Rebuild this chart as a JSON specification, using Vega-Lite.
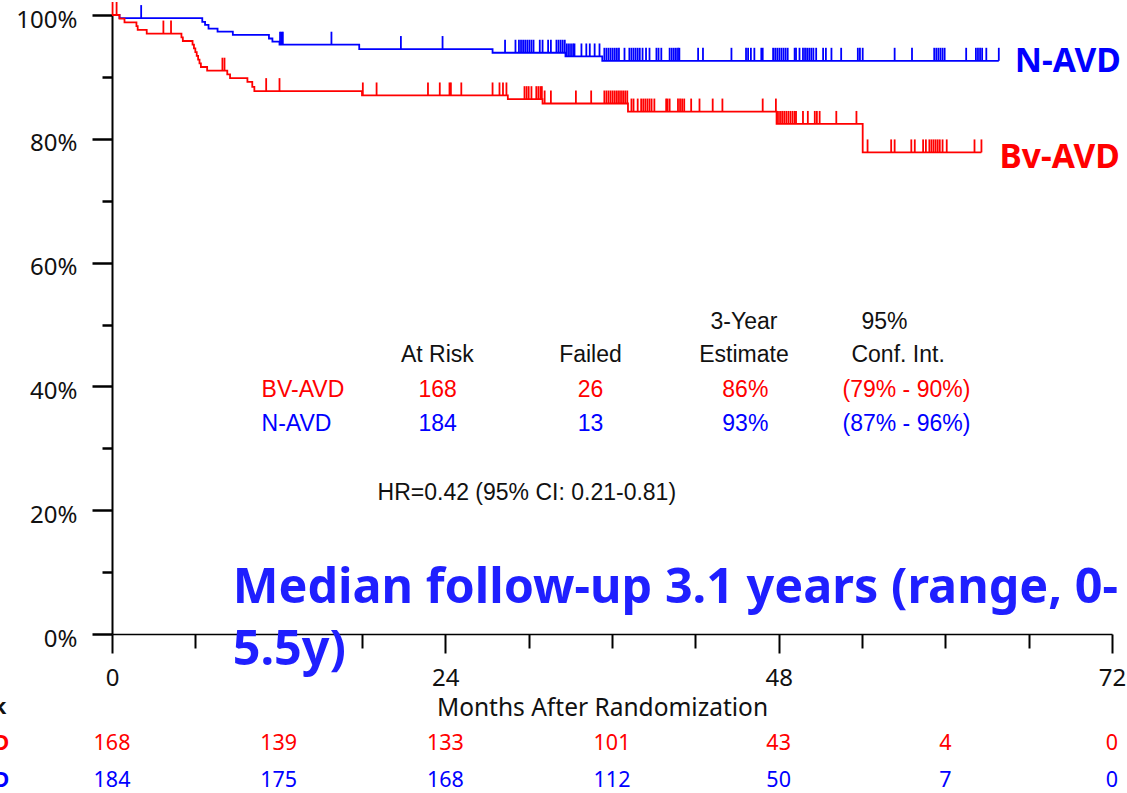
{
  "$schema": "https://vega.github.io/schema/vega-lite/v6.json",
  "width": 1000,
  "height": 619,
  "autosize": {"type": "none"},
  "padding": {"left": 112, "top": 15, "right": 15, "bottom": 159},
  "background": "white",
  "config": {"view": {"stroke": null}, "font": "Noto Sans"},
  "datasets": {
    "curve": [
      {"g":"N-AVD","t":0,"s":100},{"g":"N-AVD","t":0.54,"s":99.5},{"g":"N-AVD","t":6.5,"s":98.9},{"g":"N-AVD","t":6.7,"s":98.4},{"g":"N-AVD","t":6.95,"s":97.8},{"g":"N-AVD","t":7.6,"s":97.3},{"g":"N-AVD","t":8.7,"s":96.8},{"g":"N-AVD","t":11.3,"s":96.2},{"g":"N-AVD","t":11.55,"s":95.7},{"g":"N-AVD","t":12.06,"s":95.2},{"g":"N-AVD","t":17.8,"s":94.5},{"g":"N-AVD","t":27.4,"s":93.9},{"g":"N-AVD","t":32.65,"s":93.3},{"g":"N-AVD","t":35.3,"s":92.6},{"g":"N-AVD","t":63.85,"s":92.6},
      {"g":"BV-AVD","t":0,"s":100},{"g":"BV-AVD","t":0.54,"s":99.4},{"g":"BV-AVD","t":0.9,"s":98.8},{"g":"BV-AVD","t":1.76,"s":98.2},{"g":"BV-AVD","t":1.85,"s":97.6},{"g":"BV-AVD","t":2.5,"s":97.0},{"g":"BV-AVD","t":5.0,"s":96.4},{"g":"BV-AVD","t":5.1,"s":95.8},{"g":"BV-AVD","t":5.8,"s":95.2},{"g":"BV-AVD","t":5.9,"s":94.6},{"g":"BV-AVD","t":6.0,"s":94.0},{"g":"BV-AVD","t":6.1,"s":93.4},{"g":"BV-AVD","t":6.2,"s":92.8},{"g":"BV-AVD","t":6.3,"s":92.2},{"g":"BV-AVD","t":6.4,"s":91.6},{"g":"BV-AVD","t":6.85,"s":91.0},{"g":"BV-AVD","t":8.3,"s":90.4},{"g":"BV-AVD","t":8.5,"s":89.8},{"g":"BV-AVD","t":9.75,"s":89.2},{"g":"BV-AVD","t":10.1,"s":88.4},{"g":"BV-AVD","t":10.25,"s":87.7},{"g":"BV-AVD","t":18.0,"s":87.0},{"g":"BV-AVD","t":28.5,"s":86.4},{"g":"BV-AVD","t":31.0,"s":85.7},{"g":"BV-AVD","t":37.15,"s":84.4},{"g":"BV-AVD","t":47.85,"s":82.4},{"g":"BV-AVD","t":54.05,"s":77.8},{"g":"BV-AVD","t":62.6,"s":77.8}
    ],
    "cens": [
      {"g":"N-AVD","t":2.1,"s":99.5},
      {"g":"N-AVD","t":12.1,"s":95.2},{"g":"N-AVD","t":12.2,"s":95.2},{"g":"N-AVD","t":12.3,"s":95.2},{"g":"N-AVD","t":15.8,"s":95.2},
      {"g":"N-AVD","t":20.8,"s":94.5},{"g":"N-AVD","t":23.8,"s":94.5},
      {"g":"N-AVD","t":28.3,"s":93.9},{"g":"N-AVD","t":29.05,"s":93.9},{"g":"N-AVD","t":29.3,"s":93.9},{"g":"N-AVD","t":29.45,"s":93.9},{"g":"N-AVD","t":29.6,"s":93.9},{"g":"N-AVD","t":29.75,"s":93.9},{"g":"N-AVD","t":29.9,"s":93.9},{"g":"N-AVD","t":30.05,"s":93.9},{"g":"N-AVD","t":30.2,"s":93.9},{"g":"N-AVD","t":30.35,"s":93.9},{"g":"N-AVD","t":30.8,"s":93.9},{"g":"N-AVD","t":31.0,"s":93.9},{"g":"N-AVD","t":31.4,"s":93.9},{"g":"N-AVD","t":31.6,"s":93.9},{"g":"N-AVD","t":32.0,"s":93.9},{"g":"N-AVD","t":32.15,"s":93.9},{"g":"N-AVD","t":32.3,"s":93.9},{"g":"N-AVD","t":32.45,"s":93.9},{"g":"N-AVD","t":32.6,"s":93.9},
      {"g":"N-AVD","t":32.75,"s":93.3},{"g":"N-AVD","t":32.9,"s":93.3},{"g":"N-AVD","t":33.05,"s":93.3},{"g":"N-AVD","t":33.2,"s":93.3},{"g":"N-AVD","t":33.3,"s":93.3},{"g":"N-AVD","t":33.8,"s":93.3},{"g":"N-AVD","t":34.15,"s":93.3},{"g":"N-AVD","t":34.4,"s":93.3},{"g":"N-AVD","t":34.75,"s":93.3},{"g":"N-AVD","t":35.1,"s":93.3},
      {"g":"N-AVD","t":35.45,"s":92.6},{"g":"N-AVD","t":35.6,"s":92.6},{"g":"N-AVD","t":35.75,"s":92.6},{"g":"N-AVD","t":35.9,"s":92.6},{"g":"N-AVD","t":36.05,"s":92.6},{"g":"N-AVD","t":36.2,"s":92.6},{"g":"N-AVD","t":36.35,"s":92.6},{"g":"N-AVD","t":36.5,"s":92.6},{"g":"N-AVD","t":36.9,"s":92.6},{"g":"N-AVD","t":37.25,"s":92.6},{"g":"N-AVD","t":37.4,"s":92.6},{"g":"N-AVD","t":37.55,"s":92.6},{"g":"N-AVD","t":37.7,"s":92.6},{"g":"N-AVD","t":37.85,"s":92.6},{"g":"N-AVD","t":38.0,"s":92.6},{"g":"N-AVD","t":38.2,"s":92.6},{"g":"N-AVD","t":38.45,"s":92.6},{"g":"N-AVD","t":38.7,"s":92.6},{"g":"N-AVD","t":39.2,"s":92.6},{"g":"N-AVD","t":39.35,"s":92.6},{"g":"N-AVD","t":39.55,"s":92.6},{"g":"N-AVD","t":40.15,"s":92.6},{"g":"N-AVD","t":40.3,"s":92.6},{"g":"N-AVD","t":40.45,"s":92.6},{"g":"N-AVD","t":40.6,"s":92.6},{"g":"N-AVD","t":40.75,"s":92.6},{"g":"N-AVD","t":40.85,"s":92.6},{"g":"N-AVD","t":42.2,"s":92.6},{"g":"N-AVD","t":42.55,"s":92.6},{"g":"N-AVD","t":44.6,"s":92.6},{"g":"N-AVD","t":45.65,"s":92.6},{"g":"N-AVD","t":45.8,"s":92.6},{"g":"N-AVD","t":46.0,"s":92.6},{"g":"N-AVD","t":46.25,"s":92.6},{"g":"N-AVD","t":46.75,"s":92.6},{"g":"N-AVD","t":46.85,"s":92.6},{"g":"N-AVD","t":47.6,"s":92.6},{"g":"N-AVD","t":47.75,"s":92.6},{"g":"N-AVD","t":47.9,"s":92.6},{"g":"N-AVD","t":48.05,"s":92.6},{"g":"N-AVD","t":48.2,"s":92.6},{"g":"N-AVD","t":48.35,"s":92.6},{"g":"N-AVD","t":48.5,"s":92.6},{"g":"N-AVD","t":48.65,"s":92.6},{"g":"N-AVD","t":49.15,"s":92.6},{"g":"N-AVD","t":49.25,"s":92.6},{"g":"N-AVD","t":49.5,"s":92.6},{"g":"N-AVD","t":49.75,"s":92.6},{"g":"N-AVD","t":49.9,"s":92.6},{"g":"N-AVD","t":50.05,"s":92.6},{"g":"N-AVD","t":50.2,"s":92.6},{"g":"N-AVD","t":50.35,"s":92.6},{"g":"N-AVD","t":50.5,"s":92.6},{"g":"N-AVD","t":50.7,"s":92.6},{"g":"N-AVD","t":51.2,"s":92.6},{"g":"N-AVD","t":51.4,"s":92.6},{"g":"N-AVD","t":51.8,"s":92.6},{"g":"N-AVD","t":52.5,"s":92.6},{"g":"N-AVD","t":53.7,"s":92.6},{"g":"N-AVD","t":53.85,"s":92.6},{"g":"N-AVD","t":54.05,"s":92.6},{"g":"N-AVD","t":56.35,"s":92.6},{"g":"N-AVD","t":57.6,"s":92.6},{"g":"N-AVD","t":59.2,"s":92.6},{"g":"N-AVD","t":59.35,"s":92.6},{"g":"N-AVD","t":59.5,"s":92.6},{"g":"N-AVD","t":59.65,"s":92.6},{"g":"N-AVD","t":59.8,"s":92.6},{"g":"N-AVD","t":59.95,"s":92.6},{"g":"N-AVD","t":61.5,"s":92.6},{"g":"N-AVD","t":62.2,"s":92.6},{"g":"N-AVD","t":62.35,"s":92.6},{"g":"N-AVD","t":62.5,"s":92.6},{"g":"N-AVD","t":62.65,"s":92.6},{"g":"N-AVD","t":62.95,"s":92.6},{"g":"N-AVD","t":63.85,"s":92.6},
      {"g":"BV-AVD","t":0.04,"s":100},{"g":"BV-AVD","t":0.33,"s":100},
      {"g":"BV-AVD","t":3.7,"s":97.0},{"g":"BV-AVD","t":4.25,"s":97.0},
      {"g":"BV-AVD","t":7.95,"s":91.0},{"g":"BV-AVD","t":8.1,"s":91.0},
      {"g":"BV-AVD","t":11.1,"s":87.7},{"g":"BV-AVD","t":12.06,"s":87.7},
      {"g":"BV-AVD","t":18.06,"s":87.0},{"g":"BV-AVD","t":19.05,"s":87.0},{"g":"BV-AVD","t":22.75,"s":87.0},{"g":"BV-AVD","t":23.6,"s":87.0},{"g":"BV-AVD","t":24.3,"s":87.0},{"g":"BV-AVD","t":24.4,"s":87.0},{"g":"BV-AVD","t":25.15,"s":87.0},{"g":"BV-AVD","t":27.4,"s":87.0},{"g":"BV-AVD","t":27.9,"s":87.0},{"g":"BV-AVD","t":28.15,"s":87.0},{"g":"BV-AVD","t":28.4,"s":87.0},
      {"g":"BV-AVD","t":29.7,"s":86.4},{"g":"BV-AVD","t":29.85,"s":86.4},{"g":"BV-AVD","t":30.0,"s":86.4},{"g":"BV-AVD","t":30.2,"s":86.4},{"g":"BV-AVD","t":30.55,"s":86.4},{"g":"BV-AVD","t":30.7,"s":86.4},{"g":"BV-AVD","t":30.85,"s":86.4},{"g":"BV-AVD","t":30.95,"s":86.4},
      {"g":"BV-AVD","t":31.15,"s":85.7},{"g":"BV-AVD","t":31.6,"s":85.7},{"g":"BV-AVD","t":33.4,"s":85.7},{"g":"BV-AVD","t":34.5,"s":85.7},{"g":"BV-AVD","t":35.45,"s":85.7},{"g":"BV-AVD","t":35.6,"s":85.7},{"g":"BV-AVD","t":35.75,"s":85.7},{"g":"BV-AVD","t":35.9,"s":85.7},{"g":"BV-AVD","t":36.05,"s":85.7},{"g":"BV-AVD","t":36.2,"s":85.7},{"g":"BV-AVD","t":36.35,"s":85.7},{"g":"BV-AVD","t":36.5,"s":85.7},{"g":"BV-AVD","t":36.65,"s":85.7},{"g":"BV-AVD","t":36.8,"s":85.7},{"g":"BV-AVD","t":36.95,"s":85.7},{"g":"BV-AVD","t":37.1,"s":85.7},
      {"g":"BV-AVD","t":37.4,"s":84.4},{"g":"BV-AVD","t":37.55,"s":84.4},{"g":"BV-AVD","t":37.85,"s":84.4},{"g":"BV-AVD","t":38.1,"s":84.4},{"g":"BV-AVD","t":38.25,"s":84.4},{"g":"BV-AVD","t":38.4,"s":84.4},{"g":"BV-AVD","t":38.55,"s":84.4},{"g":"BV-AVD","t":38.7,"s":84.4},{"g":"BV-AVD","t":38.85,"s":84.4},{"g":"BV-AVD","t":39.05,"s":84.4},{"g":"BV-AVD","t":39.9,"s":84.4},{"g":"BV-AVD","t":40.0,"s":84.4},{"g":"BV-AVD","t":40.15,"s":84.4},{"g":"BV-AVD","t":40.75,"s":84.4},{"g":"BV-AVD","t":40.9,"s":84.4},{"g":"BV-AVD","t":41.05,"s":84.4},{"g":"BV-AVD","t":41.2,"s":84.4},{"g":"BV-AVD","t":41.7,"s":84.4},{"g":"BV-AVD","t":42.3,"s":84.4},{"g":"BV-AVD","t":43.25,"s":84.4},{"g":"BV-AVD","t":43.95,"s":84.4},{"g":"BV-AVD","t":46.85,"s":84.4},{"g":"BV-AVD","t":47.8,"s":84.4},
      {"g":"BV-AVD","t":47.95,"s":82.4},{"g":"BV-AVD","t":48.1,"s":82.4},{"g":"BV-AVD","t":48.25,"s":82.4},{"g":"BV-AVD","t":48.4,"s":82.4},{"g":"BV-AVD","t":48.55,"s":82.4},{"g":"BV-AVD","t":48.7,"s":82.4},{"g":"BV-AVD","t":48.85,"s":82.4},{"g":"BV-AVD","t":49.0,"s":82.4},{"g":"BV-AVD","t":49.15,"s":82.4},{"g":"BV-AVD","t":49.25,"s":82.4},{"g":"BV-AVD","t":49.75,"s":82.4},{"g":"BV-AVD","t":50.1,"s":82.4},{"g":"BV-AVD","t":50.6,"s":82.4},{"g":"BV-AVD","t":50.75,"s":82.4},{"g":"BV-AVD","t":50.95,"s":82.4},{"g":"BV-AVD","t":52.15,"s":82.4},{"g":"BV-AVD","t":53.6,"s":82.4},
      {"g":"BV-AVD","t":54.4,"s":77.8},{"g":"BV-AVD","t":56.1,"s":77.8},{"g":"BV-AVD","t":56.35,"s":77.8},{"g":"BV-AVD","t":57.55,"s":77.8},{"g":"BV-AVD","t":57.8,"s":77.8},{"g":"BV-AVD","t":58.4,"s":77.8},{"g":"BV-AVD","t":58.6,"s":77.8},{"g":"BV-AVD","t":58.85,"s":77.8},{"g":"BV-AVD","t":59.0,"s":77.8},{"g":"BV-AVD","t":59.15,"s":77.8},{"g":"BV-AVD","t":59.3,"s":77.8},{"g":"BV-AVD","t":59.45,"s":77.8},{"g":"BV-AVD","t":59.6,"s":77.8},{"g":"BV-AVD","t":59.8,"s":77.8},{"g":"BV-AVD","t":60.1,"s":77.8},{"g":"BV-AVD","t":62.1,"s":77.8},{"g":"BV-AVD","t":62.6,"s":77.8}
    ],
    "tblc": [
      {"t":45.5,"s":50.4,"g":"hdr","txt":"3-Year"},
      {"t":55.62,"s":50.4,"g":"hdr","txt":"95%"},
      {"t":23.43,"s":45.1,"g":"hdr","txt":"At Risk"},
      {"t":34.45,"s":45.1,"g":"hdr","txt":"Failed"},
      {"t":45.5,"s":45.1,"g":"hdr","txt":"Estimate"},
      {"t":56.6,"s":45.1,"g":"hdr","txt":"Conf. Int."},
      {"t":23.45,"s":39.4,"g":"BV-AVD","txt":"168"},
      {"t":34.45,"s":39.4,"g":"BV-AVD","txt":"26"},
      {"t":45.6,"s":39.4,"g":"BV-AVD","txt":"86%"},
      {"t":57.2,"s":39.4,"g":"BV-AVD","txt":"(79% - 90%)"},
      {"t":23.45,"s":33.9,"g":"N-AVD","txt":"184"},
      {"t":34.45,"s":33.9,"g":"N-AVD","txt":"13"},
      {"t":45.6,"s":33.9,"g":"N-AVD","txt":"93%"},
      {"t":57.2,"s":33.9,"g":"N-AVD","txt":"(87% - 96%)"}
    ],
    "tbll": [
      {"t":10.77,"s":39.4,"g":"BV-AVD","txt":"BV-AVD"},
      {"t":10.77,"s":33.9,"g":"N-AVD","txt":"N-AVD"},
      {"t":19.12,"s":22.8,"g":"hdr","txt":"HR=0.42 (95% CI: 0.21-0.81)"}
    ],
    "note": [
      {"t":8.69,"s":7.43,"txt":"Median follow-up 3.1 years (range, 0-"},
      {"t":8.69,"s":-2.58,"txt":"5.5y)"}
    ],
    "lbl": [
      {"t":65.0,"s":92.4,"g":"N-AVD","txt":"N-AVD"},
      {"t":63.9,"s":76.9,"g":"BV-AVD","txt":"Bv-AVD"}
    ],
    "risk": [
      {"t":0,"s":-17.8,"g":"BV-AVD","txt":"168"},{"t":12,"s":-17.8,"g":"BV-AVD","txt":"139"},{"t":24,"s":-17.8,"g":"BV-AVD","txt":"133"},{"t":36,"s":-17.8,"g":"BV-AVD","txt":"101"},{"t":48,"s":-17.8,"g":"BV-AVD","txt":"43"},{"t":60,"s":-17.8,"g":"BV-AVD","txt":"4"},{"t":72,"s":-17.8,"g":"BV-AVD","txt":"0"},
      {"t":0,"s":-23.8,"g":"N-AVD","txt":"184"},{"t":12,"s":-23.8,"g":"N-AVD","txt":"175"},{"t":24,"s":-23.8,"g":"N-AVD","txt":"168"},{"t":36,"s":-23.8,"g":"N-AVD","txt":"112"},{"t":48,"s":-23.8,"g":"N-AVD","txt":"50"},{"t":60,"s":-23.8,"g":"N-AVD","txt":"7"},{"t":72,"s":-23.8,"g":"N-AVD","txt":"0"}
    ],
    "riskl": [
      {"t":-7.4,"s":-17.8,"g":"BV-AVD","txt":"BV-AVD"},
      {"t":-7.4,"s":-23.8,"g":"N-AVD","txt":"N-AVD"},
      {"t":-7.6,"s":-12.0,"g":"hdr","txt":"At Risk"}
    ]
  },
  "layer": [
    {
      "data": {"name": "curve"},
      "mark": {"type": "line", "interpolate": "step-after", "strokeWidth": 1.8},
      "encoding": {
        "x": {
          "field": "t", "type": "quantitative",
          "scale": {"domain": [0, 72], "nice": false, "zero": false},
          "axis": {
            "values": [0, 6, 12, 18, 24, 30, 36, 42, 48, 54, 60, 66, 72],
            "labelExpr": "datum.value % 24 === 0 ? datum.label : ''",
            "tickSize": {"condition": {"test": "datum.value % 24 === 0", "value": 19}, "value": 14},
            "tickWidth": 2, "tickColor": "#000",
            "domainColor": "#000", "domainWidth": 1.5,
            "grid": false, "labelFlush": false, "labelOverlap": false,
            "labelFont": "Noto Sans", "labelFontSize": 24, "labelColor": "#111", "labelPadding": 13,
            "title": "Months After Randomization", "titleFont": "Noto Sans", "titleFontSize": 24.5,
            "titleFontWeight": "normal", "titleColor": "#111", "titlePadding": 6, "titleX": 490
          }
        },
        "y": {
          "field": "s", "type": "quantitative",
          "scale": {"domain": [0, 100], "nice": false},
          "axis": {
            "values": [0, 10, 20, 30, 40, 50, 60, 70, 80, 90, 100],
            "labelExpr": "datum.value % 20 === 0 ? datum.value + '%' : ''",
            "tickSize": {"condition": {"test": "datum.value % 20 === 0", "value": 20}, "value": 10},
            "tickWidth": 2.5, "tickColor": "#000",
            "domainColor": "#000", "domainWidth": 2,
            "grid": false, "labelOverlap": false,
            "labelFont": "Noto Sans", "labelFontSize": 24, "labelColor": "#111", "labelPadding": 15,
            "labelOffset": 5,
            "title": null
          }
        },
        "color": {"field": "g", "type": "nominal", "scale": {"domain": ["BV-AVD", "N-AVD", "hdr"], "range": ["#ff0000", "#0000ff", "#111111"]}, "legend": null}
      }
    },
    {
      "data": {"name": "cens"},
      "mark": {"type": "rule", "strokeWidth": 1.8, "y2Offset": -13},
      "encoding": {
        "x": {"field": "t", "type": "quantitative"},
        "y": {"field": "s", "type": "quantitative"},
        "y2": {"field": "s"},
        "color": {"field": "g", "type": "nominal", "legend": null}
      }
    },
    {
      "data": {"name": "tblc"},
      "mark": {"type": "text", "font": "Liberation Sans", "fontSize": 23, "align": "center", "baseline": "middle"},
      "encoding": {
        "x": {"field": "t", "type": "quantitative"},
        "y": {"field": "s", "type": "quantitative"},
        "text": {"field": "txt"},
        "color": {"field": "g", "type": "nominal", "legend": null}
      }
    },
    {
      "data": {"name": "tbll"},
      "mark": {"type": "text", "font": "Liberation Sans", "fontSize": 23, "align": "left", "baseline": "middle"},
      "encoding": {
        "x": {"field": "t", "type": "quantitative"},
        "y": {"field": "s", "type": "quantitative"},
        "text": {"field": "txt"},
        "color": {"field": "g", "type": "nominal", "legend": null}
      }
    },
    {
      "data": {"name": "note"},
      "mark": {"type": "text", "font": "Noto Sans", "fontSize": 48.5, "fontWeight": "bold", "align": "left", "baseline": "middle", "color": "#1f1fff"},
      "encoding": {
        "x": {"field": "t", "type": "quantitative"},
        "y": {"field": "s", "type": "quantitative"},
        "text": {"field": "txt"}
      }
    },
    {
      "data": {"name": "lbl"},
      "mark": {"type": "text", "font": "Noto Sans", "fontSize": 33.5, "fontWeight": "bold", "align": "left", "baseline": "middle"},
      "encoding": {
        "x": {"field": "t", "type": "quantitative"},
        "y": {"field": "s", "type": "quantitative"},
        "text": {"field": "txt"},
        "color": {"field": "g", "type": "nominal", "legend": null}
      }
    },
    {
      "data": {"name": "risk"},
      "mark": {"type": "text", "font": "Noto Sans", "fontSize": 21.5, "align": "center", "baseline": "middle"},
      "encoding": {
        "x": {"field": "t", "type": "quantitative"},
        "y": {"field": "s", "type": "quantitative"},
        "text": {"field": "txt"},
        "color": {"field": "g", "type": "nominal", "legend": null}
      }
    },
    {
      "data": {"name": "riskl"},
      "mark": {"type": "text", "font": "Noto Sans", "fontSize": 21.5, "fontWeight": "bold", "align": "right", "baseline": "middle"},
      "encoding": {
        "x": {"field": "t", "type": "quantitative"},
        "y": {"field": "s", "type": "quantitative"},
        "text": {"field": "txt"},
        "color": {"field": "g", "type": "nominal", "legend": null}
      }
    }
  ]
}
